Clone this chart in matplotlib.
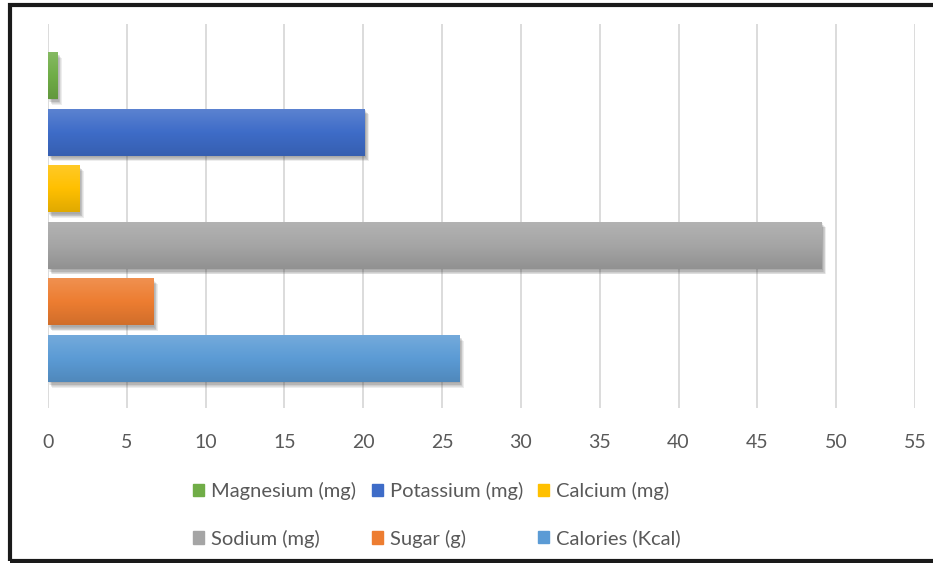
import numpy as np
import matplotlib.pyplot as plt
import matplotlib.patheffects as pe
from matplotlib.colors import LinearSegmentedColormap, to_rgb
from matplotlib.patches import Rectangle

plt.rcParams['font.family'] = ['Lato', 'DejaVu Sans']

# nutrient values, bottom bar first
labels = ['Calories (Kcal)', 'Sugar (g)', 'Sodium (mg)',
          'Calcium (mg)', 'Potassium (mg)', 'Magnesium (mg)']
values = [26.1, 6.7, 49.1, 2.0, 20.1, 0.6]
colors = ['#5B9BD5', '#ED7D31', '#A5A5A5', '#FFC000', '#3E6CC8', '#70AD47']
xticks = list(range(0, 60, 5))


def shade(c, f):
    r, g, b = to_rgb(c)
    if f > 0:
        return (r + (1 - r) * f, g + (1 - g) * f, b + (1 - b) * f)
    return (r * (1 + f), g * (1 + f), b * (1 + f))


fig = plt.figure(figsize=(9.33, 5.63), dpi=100)
ax = fig.add_axes([48 / 933, 1 - 408 / 563, 867 / 933, 384 / 563])

pos = np.arange(len(values))
bars = ax.barh(pos, values, height=0.83, color=colors, zorder=3)

# blurred drop shadow built from a few faint offset copies
shadow = [pe.SimplePatchShadow(offset=(dx, -dy), shadow_rgbFace='#404040', alpha=0.09)
          for dx, dy in [(0.5, 1), (1, 2), (1.5, 2.5), (2, 3), (2.5, 3.5), (3, 4)]]

grad = np.linspace(0, 1, 64).reshape(-1, 1)
for bar, c in zip(bars, colors):
    bar.set_path_effects(shadow + [pe.Normal()])
    x0, y0 = bar.get_x(), bar.get_y()
    w, h = bar.get_width(), bar.get_height()
    cmap = LinearSegmentedColormap.from_list('g', [shade(c, -0.12), c, shade(c, 0.15)])
    im = ax.imshow(grad, cmap=cmap, aspect='auto', extent=(x0, x0 + w, y0, y0 + h),
                   origin='lower', zorder=4)
    im.set_clip_path(bar)

ax.set_xlim(0, 55)
ax.set_ylim(-0.875, 5.91)
ax.set_xticks(xticks)
ax.set_yticks([])
ax.grid(axis='x', color='#D9D9D9', linewidth=1.3, zorder=0)
ax.tick_params(axis='x', length=0, pad=19, labelsize=14, labelcolor='#595959')
for s in ax.spines.values():
    s.set_visible(False)

# legend laid out in rows: Magnesium, Potassium, Calcium / Sodium, Sugar, Calories
order = [5, 2, 4, 1, 3, 0]
handles = [Rectangle((0, 0), 1, 1, color=colors[i]) for i in order]
leg = fig.legend(handles, [labels[i] for i in order], ncol=3, loc='center',
                 bbox_to_anchor=(437 / 933, 1 - 515 / 563), frameon=False,
                 fontsize=14.5, labelcolor='#595959', handlelength=0.55, handleheight=0.55,
                 handletextpad=0.35, columnspacing=0.75, labelspacing=1.45)

# outer frame
fig.patches.append(Rectangle((10 / 933, 2 / 563), 1.0, 1 - 7 / 563, transform=fig.transFigure,
                             fill=False, edgecolor='#1A1A1A', linewidth=3))

fig.savefig('out.png', dpi=100)
